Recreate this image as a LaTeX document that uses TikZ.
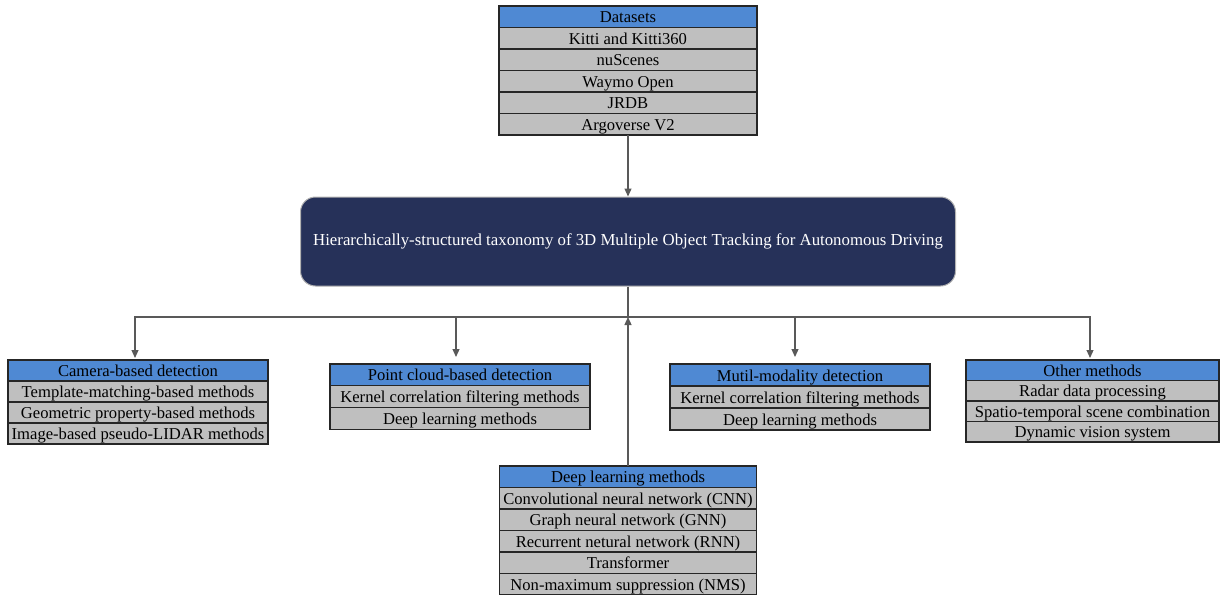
\documentclass[tikz,border=0pt]{standalone}
\usepackage{fontspec}
\setmainfont{Liberation Serif}
\usetikzlibrary{ % tikz packages
    positioning,arrows.meta
}
\definecolor{headblue}{RGB}{79,137,211}
\definecolor{itemgray}{RGB}{191,191,191}
\definecolor{rootblue}{RGB}{38,49,89}
\definecolor{linegray}{RGB}{89,89,89}
\tikzset{cell/.style={
    draw=black!85,
    line width=1.2pt,
    inner sep=1pt,
    outer sep=0pt,
    text height=13.5pt,
    text depth=1.5pt,
    font=\fontsize{16.6}{19}\selectfont
}}
\tikzset{head/.style={cell, fill=headblue}}
\tikzset{item/.style={cell, fill=itemgray}}
\tikzset{root/.style={
    fill=rootblue,
    draw=gray!60,
    line width=1pt,
    rounded corners=15pt,
    text=white,
    font=\fontsize{16.8}{19}\selectfont
}}
\tikzset{link/.style={draw=linegray, line width=1.2pt}}
\tikzset{>={Triangle[length=8pt,width=7pt]}}

\begin{document}
\begin{tikzpicture}[x=1pt,y=-1pt,node distance=0pt]
            \useasboundingbox (0,0) rectangle (1220,594);

            % datasets
            \begin{scope}[nodes={minimum width=258pt, minimum height=21.5pt}]
            \node[head, anchor=north] (d0) at (628,6) {Datasets};
            \node[item] (d1) [below=of d0] {Kitti and Kitti360};
            \node[item] (d2) [below=of d1] {nuScenes};
            \node[item] (d3) [below=of d2] {Waymo Open};
            \node[item] (d4) [below=of d3] {JRDB};
            \node[item] (d5) [below=of d4] {Argoverse V2};
            \end{scope}

            \node[root, minimum width=655pt, minimum height=89pt] (root) at (628,241.5)
                {Hierarchically-structured taxonomy of 3D Multiple Object Tracking for Autonomous Driving};
            \coordinate (hub) at (628,317);

            % camera
            \begin{scope}[nodes={minimum width=260pt, minimum height=21pt}]
            \node[head, anchor=north] (c0) at (138,360) {Camera-based detection};
            \node[item] (c1) [below=of c0] {Template-matching-based methods};
            \node[item] (c2) [below=of c1] {Geometric property-based methods};
            \node[item] (c3) [below=of c2] {Image-based pseudo-LIDAR methods};
            \end{scope}

            % point cloud
            \begin{scope}[nodes={minimum width=260pt, minimum height=21.7pt}]
            \node[head, anchor=north] (p0) at (460,364) {Point cloud-based detection};
            \node[item] (p1) [below=of p0] {Kernel correlation filtering methods};
            \node[item] (p2) [below=of p1] {Deep learning methods};
            \end{scope}

            % multi-modality
            \begin{scope}[nodes={minimum width=260pt, minimum height=22pt}]
            \node[head, anchor=north] (m0) at (800,364) {Mutil-modality detection};
            \node[item] (m1) [below=of m0] {Kernel correlation filtering methods};
            \node[item] (m2) [below=of m1] {Deep learning methods};
            \end{scope}

            % other
            \begin{scope}[nodes={minimum width=253pt, minimum height=20.5pt}]
            \node[head, anchor=north] (o0) at (1092.5,360) {Other methods};
            \node[item] (o1) [below=of o0] {Radar data processing};
            \node[item] (o2) [below=of o1] {Spatio-temporal scene combination};
            \node[item] (o3) [below=of o2] {Dynamic vision system};
            \end{scope}

            % deep learning
            \begin{scope}[nodes={minimum width=257pt, minimum height=21.5pt}]
            \node[head, anchor=north] (l0) at (628,466) {Deep learning methods};
            \node[item] (l1) [below=of l0] {Convolutional neural network (CNN)};
            \node[item] (l2) [below=of l1] {Graph neural network (GNN)};
            \node[item] (l3) [below=of l2] {Recurrent netural network (RNN)};
            \node[item] (l4) [below=of l3] {Transformer};
            \node[item] (l5) [below=of l4] {Non-maximum suppression (NMS)};
            \end{scope}

            \draw[link,->] (d5.south) -- (root.north);
            \draw[link,->] (l0.north) -- (hub);
            \draw[link] (root.south) -- (hub);
            \draw[link,->] (hub) -| ([xshift=-3pt,yshift=2pt]c0.north);
            \draw[link,->] (hub) -| ([xshift=-4pt,yshift=7pt]p0.north);
            \draw[link,->] (hub) -| ([xshift=-5pt,yshift=7pt]m0.north);
            \draw[link,->] (hub) -| ([xshift=-2.5pt,yshift=2pt]o0.north);
        \end{tikzpicture}
\end{document}
